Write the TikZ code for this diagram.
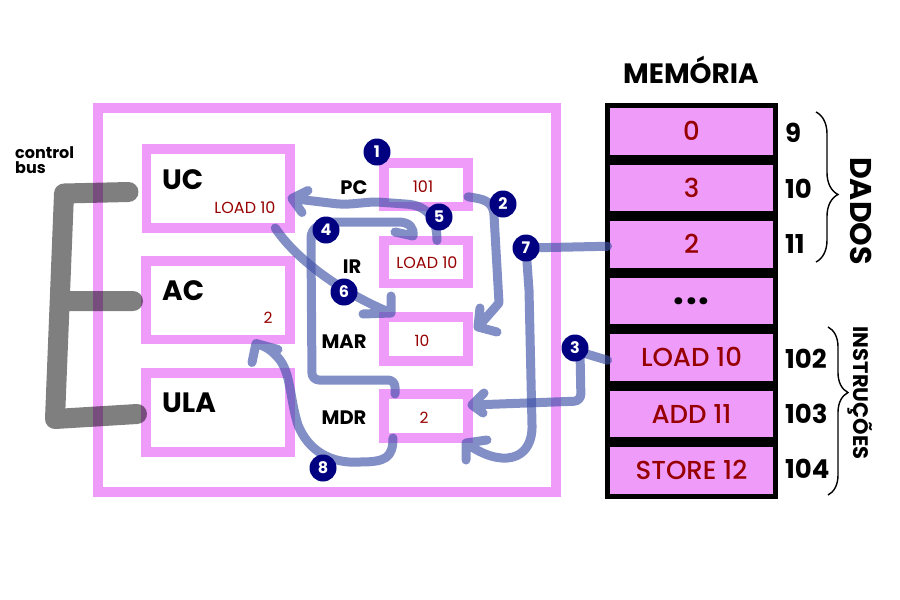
\documentclass[tikz,border=0pt]{standalone}
\usepackage{fontspec}
\setmainfont{Poppins}
\newfontfamily\pmed{Poppins Medium}
\usetikzlibrary{decorations.pathreplacing,calc}
\definecolor{pinkb}{RGB}{238,155,249}
\definecolor{dred}{RGB}{150,0,0}
\definecolor{navyc}{RGB}{0,0,128}
\definecolor{flowc}{RGB}{63,81,168}
\newcommand{\fsz}[1]{\fontsize{#1}{#1}\selectfont}
\begin{document}
\begin{tikzpicture}[x=1pt,y=-1pt,
  regbox/.style={draw=pinkb, line width=9.5pt, inner sep=0pt, outer sep=0pt},
  cell/.style={draw=black, fill=pinkb, line width=5pt, inner sep=0pt, outer sep=0pt,
     minimum width=168pt, minimum height=51.5pt, text=dred, font=\pmed\fsz{26},
     text height=18.5pt, text depth=0pt},
  biglab/.style={inner sep=0pt, anchor=base west, font=\fsz{28}\bfseries},
  reglab/.style={inner sep=0pt, anchor=base, font=\fsz{19.5}\bfseries},
  val/.style={inner sep=0pt, anchor=base, text=dred, font=\fsz{16}},
  addr/.style={inner sep=0pt, anchor=base west, font=\fsz{26}\bfseries},
  flowline/.style={draw=flowc, draw opacity=0.65, line width=9pt, line cap=round, line join=round},
  busline/.style={draw=black, draw opacity=0.5, line width=20pt, line cap=round, line join=round},
  stepnum/.style={circle, fill=navyc, minimum size=27pt, inner sep=0pt, text=white,
     font=\fsz{16}\bfseries, text height=11.5pt, text depth=0pt},
  bracel/.style={draw=black, line width=1.4pt, decorate}
]
\useasboundingbox (0,0) rectangle (900,600);

% CPU
\node[regbox, line width=10pt, minimum width=458pt, minimum height=384pt] (cpu) at (327,300) {};
\node[regbox, minimum width=143.5pt, minimum height=79pt] (uc) at (218.25,188.5) {};
\node[regbox, minimum width=144pt, minimum height=78.5pt] (ac) at (218,300.25) {};
\node[regbox, minimum width=144pt, minimum height=79pt] (ula) at (218,412.5) {};
\node[regbox, minimum width=84pt, minimum height=43.5pt] (pc) at (426,184.75) {};
\node[regbox, minimum width=84pt, minimum height=43pt] (ir) at (426,262) {};
\node[regbox, minimum width=84pt, minimum height=44pt] (mar) at (426,339) {};
\node[regbox, minimum width=84pt, minimum height=44pt] (mdr) at (426,416) {};

% labels in CPU
\node[biglab] (tuc) at (162,189) {UC};
\node[biglab] (tac) at (162,300) {AC};
\node[biglab] (tula) at (162,412) {ULA};
\node[val] (vuc) at (245,213) {LOAD 10};
\node[val, font=\fsz{15.5}] (vac) at (268,323) {2};
\node[reglab] (tpc) at (354,194) {PC};
\node[reglab] (tir) at (352,273) {IR};
\node[reglab] (tmar) at (344,348) {MAR};
\node[reglab] (tmdr) at (344,424) {MDR};
\node[val] (vpc) at (423,192) {101};
\node[val] (vir) at (427,268) {LOAD 10};
\node[val, font=\fsz{15.5}] (vmar) at (422,346) {10};
\node[val, font=\fsz{15.5}] (vmdr) at (424,423) {2};
\node[inner sep=0pt, anchor=north west, align=left, font=\fontsize{16}{15}\selectfont\bfseries] (tcb) at (15,146) {control\\bus};

% memory
\node[inner sep=0pt, anchor=base, font=\fsz{28}\bfseries] (tmem) at (691,83) {MEMÓRIA};
\node[cell] (m1) at (691.5,131.25) {0};
\node[cell] (m2) at (691.5,187.75) {3};
\node[cell] (m3) at (691.5,244.25) {2};
\node[cell, text=black, font=\fsz{38}\bfseries, text height=7pt] (m4) at (691.5,300.75) {.\kern2pt.\kern2pt.};
\node[cell] (m5) at (691.5,357.25) {LOAD 10};
\node[cell] (m6) at (691.5,413.75) {ADD 11};
\node[cell] (m7) at (691.5,470.25) {STORE 12};
\node[addr] (a9) at (785,142) {9};
\node[addr] (a10) at (785,198) {10};
\node[addr] (a11) at (785,253) {11};
\node[addr] (a102) at (785,368) {102};
\node[addr] (a103) at (785,423) {103};
\node[addr] (a104) at (785,478) {104};

% braces
\draw[bracel, decoration={brace, amplitude=22pt, aspect=0.55}] (816,112) -- (816,262);
\draw[bracel, decoration={brace, amplitude=20pt, aspect=0.39}] (828,327) -- (828,495);
\node[inner sep=0pt, rotate=-90, font=\fsz{30}\bfseries, text height=21pt, text depth=0pt] (tdados) at (861,211) {DADOS};
\node[inner sep=0pt, rotate=-90, font=\fsz{21}\bfseries, text height=14.7pt, text depth=0pt] (tinstr) at (861,393) {INSTRUÇÕES};

% control bus
\draw[busline] ($(uc.west)+(-18,3.5)$) -- (64,193.5) -- (55,419) -- ($(ula.west)+(-9,1.5)$)
   (59.5,301) -- ($(ac.west)+(-13,0.75)$);

% flows
% 5: IR -> UC
\coordinate (t5) at ([xshift=2,yshift=-10]uc.east);
\draw[flowline] ([xshift=11]ir.north) .. controls (437,222) and (430,205) .. (405,204)
   -- (377,202) .. controls (360,202) and (350,206) .. (330,203) -- (t5)
   (t5) -- ++(16,-8) (t5) -- ++(10,14);
% 4: MDR -> IR
\coordinate (t4) at ([xshift=-13,yshift=4.5]ir.north);
\draw[flowline] ([xshift=-31]mdr.north) [rounded corners=7pt] -- (395,380) -- (312,380) -- (311,245) [sharp corners]
   .. controls (311,228) and (320,222) .. (338,222) -- (398,222) .. controls (410,222) and (414,228) .. (t4)
   (t4) -- ++(-18,-4);
% 6: UC -> MAR
\coordinate (t6) at ([xshift=-35,yshift=4]mar.north);
\draw[flowline] ([xshift=57]uc.south) .. controls (295,258) and (340,292) .. (t6)
   (t6) -- ++(0,-17) (t6) -- ++(-28,1);
% 2: PC -> MAR
\coordinate (t2) at ([xshift=10,yshift=12]mar.east);
\draw[flowline] ([yshift=-12]pc.east) .. controls (482,199) and (493,200) .. (494,215) -- (499,303) -- (t2)
   (t2) -- ++(2,-19) (t2) -- ++(19,5);
% 7: memory -> MDR
\coordinate (t7) at ([xshift=-2,yshift=-5]mdr.south east);
\draw[flowline] ([yshift=-2]m3.west) -- (526,248) -- (529,290) -- (532,425)
   .. controls (533,462) and (500,468) .. (t7)
   (t7) -- ++(0,17) (t7) -- ++(21,-3);
% 3: memory -> MDR
\coordinate (t3) at ([xshift=4,yshift=11]mdr.east);
\draw[flowline] ([yshift=-3]m5.west) -- (580,352) [rounded corners=7pt] -- (581,401) -- (t3) [sharp corners]
   (t3) -- ++(12,-12) (t3) -- ++(11,8);
% 8: MDR -> AC
\coordinate (t8) at ([xshift=38,yshift=-4]ac.south);
\draw[flowline] ([xshift=-33]mdr.south) .. controls (393,458) and (385,462) .. (360,462)
   .. controls (330,464) and (308,450) .. (298,425)
   .. controls (290,400) and (291,375) .. (280,360)
   .. controls (272,350) and (265,346) .. (t8)
   (t8) -- ++(22,6) (t8) -- ++(-4,19);

% step numbers
\node[stepnum] (n1) at (377,152) {1};
\node[stepnum] (n2) at (503,204) {2};
\node[stepnum] (n3) at (575,348) {3};
\node[stepnum] (n4) at (326,230) {4};
\node[stepnum] (n5) at (439,217) {5};
\node[stepnum] (n6) at (344,292) {6};
\node[stepnum] (n7) at (526,248) {7};
\node[stepnum] (n8) at (323,468) {8};
\end{tikzpicture}
\end{document}
